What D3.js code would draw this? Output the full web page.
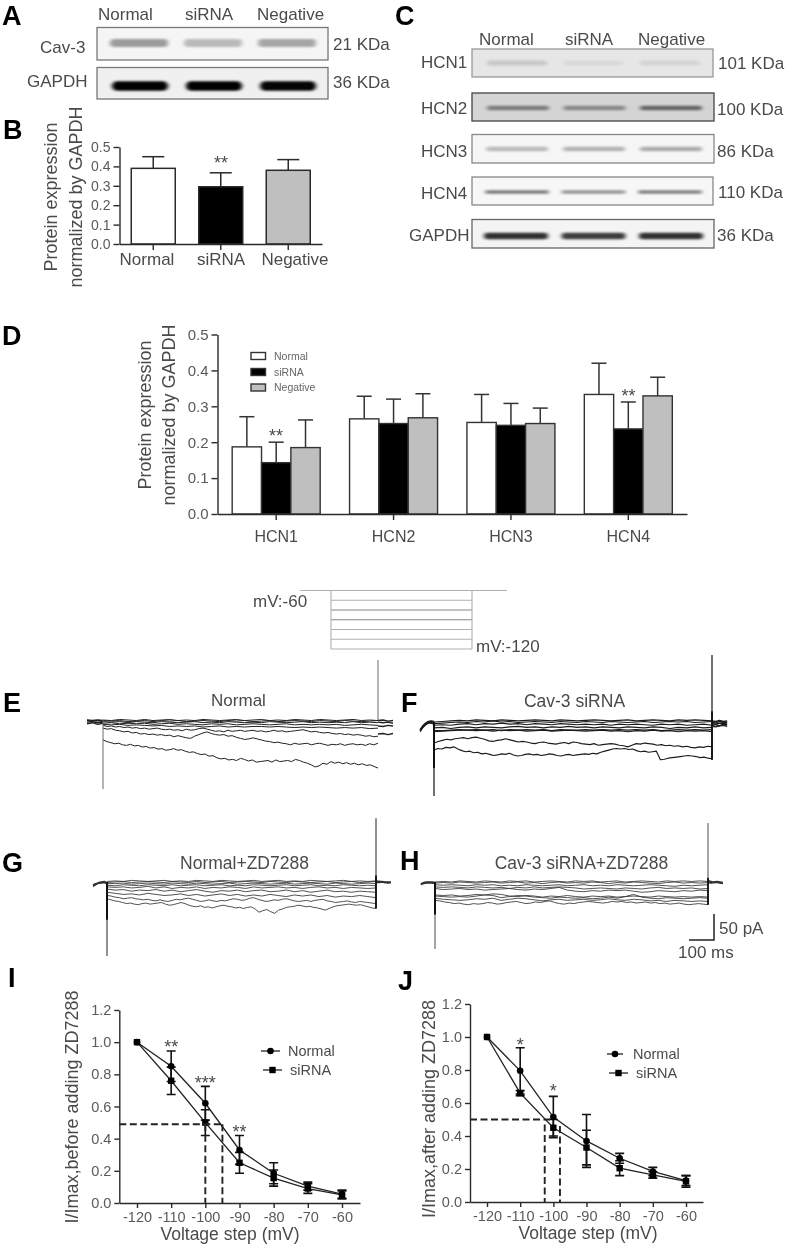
<!DOCTYPE html>
<html><head><meta charset="utf-8">
<script src="https://cdn.jsdelivr.net/npm/d3@7/dist/d3.min.js"></script>
<style>html,body{margin:0;padding:0;background:#fff}svg{display:block;font-family:"Liberation Sans",Arial,sans-serif;filter:blur(.4px)}</style>
</head><body><svg id="c" width="787" height="1245"></svg>
<script>
// ---------- data ----------
const lanes = ["Normal","siRNA","Negative"];
const bandCav3 = [.36,.24,.32];
const bandGapdhA = [1,1,.98];
const bandHcn1 = [.13,.05,.08];
const bandHcn2 = [.42,.36,.52];
const bandHcn3 = [.24,.27,.3];
const bandHcn4 = [.5,.4,.48];
const bandGapdhC = [.8,.75,.8];

const cav3Mean = [.39,.295,.38];
const cav3Top = [.45,.367,.435];

const hcnGroups = ["HCN1","HCN2","HCN3","HCN4"];
const hcnNormal = [.187,.265,.255,.333];
const hcnSirna = [.143,.252,.247,.237];
const hcnNegative = [.185,.268,.252,.329];
const hcnNormalTop = [.271,.328,.333,.42];
const hcnSirnaTop = [.2,.32,.308,.312];
const hcnNegativeTop = [.262,.335,.295,.381];

const protocolSteps = [-60,-70,-80,-90,-100,-110,-120];

const voltages = [-120,-110,-100,-90,-80,-70,-60];
const iNormal = [1,.85,.62,.33,.185,.105,.055];
const iNormalErr = [0,.095,.105,.09,.065,.025,.025];
const iSirna = [1,.76,.50,.25,.155,.09,.05];
const iSirnaErr = [0,.085,.08,.065,.05,.03,.025];
const jNormal = [1,.795,.515,.37,.265,.185,.13];
const jNormalErr = [0,.14,.125,.16,.03,.025,.03];
const jSirna = [1,.66,.45,.33,.205,.165,.125];
const jSirnaErr = [0,.015,.05,.105,.045,.02,.035];

// current traces, pA of inward current, sampled evenly over the 1100 ms step
const tracesE = [
[37,40,42,44,43,46,47,45,48,47,50,49,52,51,54,53,56,55,53,56,55,58,60,59,62,64,63,67,66,70,72,71,74,73,75,71,73,76,74,78,77,76,75,78,74,77,76,75,77,73,75,78,80,83,87,85,80,82,77,80,78,81,79,82,80,83,81,84,83,86,89],
[15,17,16,19,20,22,21,24,23,26,25,27,26,28,27,29,28,31,29,31,33,34,30,27,24,22,25,27,28,27,30,29,32,34,36,35,33,35,37,39,40,42,41,43,44,46,43,45,44,43,46,44,43,45,47,45,46,44,47,45,44,46,45,47,44,46,43],
[10,12,11,13,12,14,13,15,14,16,15,17,16,15,17,18,17,19,18,20,17,19,18,16,15,17,19,21,20,22,19,21,20,19,21,20,19,21,20,22,21,19,21,20,22,21,20,19,18,20,22,21,23,24,23,25,26,25,27,26,28,27,28,30,29,31,30],
[8,9,8,10,9,10,11,10,12,11,12,11,13,12,11,13,12,13,12,12,13,12,13,14,13,14,13,14,15,14,15,14,16,15],
[6,5,7,6,7,6,8,7,6,8,7,8,9,7,8,7,9,8,7,8,9,8,7,9,8,9,8,9,8,10,9,8,9,10],
[3,4,3,5,3,4,5,3,4,5,4,3,5,4,5,3,4,5,4,5,3,4,5,4,3,5,4,5,4,5,3,5,4,5],
[1,2,1,3,2,1,3,1,2,1,3,2,1,2,3,1,2,1,3,2,1,3,2,1,2,3,1,2,3,1,2,3,2,1],
[0,1,-1,0,1,-1,1,0,-1,1,0,1,-1,0,1,0,-1,1,0,-1,1,0,1,-1,0,1,-1,0,1,0,-1,1,0,1]];
const preE = [[1,2,1,3],[4,3,5,4],[0,1,0,1],[7,5,8,6]];
const postE = [[1,0,2,1],[4,5,4,6],[11,12,10,11],[26,25,27,25]];

const tracesF = [
[52,49,50,47,48,46,50,53,55,54,57,56,59,58,60,62,61,59,60,58,61,63,62,60,59,61,60,62,61,59,60,62,63,61,60,62,61,60,59,60,58,59,56,54,52,50,49,50,49,51,50,53,55,54,56,55,54,70,69,67,66,65,64,63,62,63,64,66,65,67,68],
[39,36,34,32,33,31,30,29,31,29,28,30,32,35,36,34,33,31,33,35,37,36,37,39,40,38,37,39,40,41,39,38,40,37,38,40,41,42,40,43,42,41,40,41,43,44,46,43,40,41,39,40,41,43,42,44,43,45,44,46,45,47,48,46,47,45,46],
[18,17,16,15,15,16,15,17,15,16,15,17,16,15,17,16,15,16,17,16,15,17,16,18,16,17,15,17,16,18,16,17,16,18],
[16,16,15,14,15,14,15,14,16,14,15,14,15,14,16,14,15,15,14,15,14,15,14,15,14,15,14,16,15,14,15,14,15,14],
[11,10,12,10,9,11,9,10,11,9,8,10,9,11,9,10,8,10,9,11,9,10,11,9,10,11,9,10,12,10,11,9,11,10],
[6,5,6,4,3,5,3,4,2,4,3,5,3,4,5,3,4,5,4,5,4,6,4,5,4,5,6,4,5,4,6,5,4,6],
[3,2,1,0,1,-1,0,-2,0,-1,1,0,-1,0,1,-1,0,1,-1,0,1,-1,0,1,0,-1,1,0,-1,0,-1,1,0,-1],
[0,-1,-2,-3,-2,-4,-3,-2,-4,-3,-2,-3,-4,-3,-2,-4,-3,-2,-3,-4,-3,-2,-3,-4,-2,-3,-4,-3,-2,-4,-3,-4,-3,-2]];
const preF = [[14,7,2,-1,-2,-1],[16,9,4,0,-1,1],[15,8,3,1,1,3],[18,10,5,2,2,4]];
const postF = [[-2,-1,-3,-1,-2],[0,2,-1,1,0],[3,4,2,3,2],[6,5,7,4,5],[8,9,7,6,8]];

const tracesG = [
[31,33,35,36,38,40,39,41,42,40,39,41,40,39,38,41,43,42,40,38,40,43,45,46,44,47,46,48,46,44,43,45,46,48,47,49,47,46,50,56,53,51,55,58,52,50,47,46,45,43,44,46,45,47,48,50,52,49,46,44,43,42,41,42,43,42,44,46,48,49],
[25,26,28,29,31,30,29,31,32,33,32,34,35,33,35,36,34,32,33,31,30,32,34,36,35,33,35,36,34,35,33,31,32,34,33,30,29,32,34,36,35,33,34,32,31,33,35,36,35,34,36,34,33,32,35,36,38,37,36,35,37,38,36,37,38,39,40],
[19,21,23,22,24,21,23,25,24,22,25,23,26,24,22,25,23,26,24,26,23,25,27,24,26,24,27,25,28,26,27,25,27,29],
[13,15,14,17,15,16,14,17,15,18,16,14,17,19,16,17,15,18,16,15,18,17,15,18,16,19,17,15,18,17,19,17,18,19],
[9,10,9,11,10,8,11,9,12,10,11,9,12,10,11,9,10,12,9,11,10,9,11,10,12,10,9,11,10,12,10,11,12,11],
[6,7,5,6,7,5,6,7,5,7,6,5,7,6,5,7,6,7,5,6,7,6,5,7,6,5,7,6,7,5,6,7,6,7],
[3,3,2,4,3,2,3,4,2,3,4,2,3,4,3,2,4,3,2,3,4,3,2,4,3,2,3,4,2,3,4,3,2,3],
[1,0,-1,1,0,-1,0,1,-1,0,1,-1,1,0,-1,1,0,-1,0,1,-1,0,1,-1,0,1,0,-1,1,0,-1,1,0,-1],
[-1,-2,-1,-3,-2,-1,-2,-3,-1,-2,-1,-3,-2,-1,-3,-2,-1,-2,-3,-1,-2,-3,-1,-2,-1,-3,-2,-1,-2,-3,-1,-2,-1,-2]];
const preG = [[7,4,1,0,-1,1],[8,5,2,1,0,2],[5,3,2,2,1,3]];
const postG = [[0,-1,-1,0,1,0],[1,1,0,1,2,1],[-2,-1,0,1,0,1]];

const tracesH = [
[34,35,37,38,40,39,41,42,40,41,40,38,39,41,40,38,37,36,38,40,39,37,38,36,35,38,40,41,39,40,38,37,36,37,38,39,38,36,37,36,38,37,39,38,37,39,38,40,39,41,40,39,41,42,41,40,41,42],
[30,32,33,34,33,31,32,30,34,32,30,31,33,35,33,32,34,33,32,34,33,31,33,34,32,33,35,34,36,34,35,36,35,36],
[26,27,28,27,28,26,24,25,29,27,25,26,28,29,30,28,29,30,29,31,30,28,30,27,23,28,30,31,29,30,31,30,29,30],
[24,25,24,26,25,23,24,22,23,26,27,25,26,28,26,27,25,27,28,26,27,26,28,27,26,27,28,26,27,28,27,28,27,28],
[12,14,13,12,14,13,15,14,13,12,14,15,13,14,12,10,15,17,18,16,17,15,16,15,17,19,18,16,17,18,16,17,15,16],
[9,10,9,10,11,9,10,11,10,12,10,11,9,11,10,9,10,11,13,12,11,12,13,11,12,13,11,10,12,11,12,11,13,12],
[5,6,5,6,7,5,6,5,7,6,7,5,6,7,6,5,7,6,5,7,6,7,5,6,7,6,5,6,7,8,6,7,6,5],
[2,1,2,0,1,2,1,0,2,1,0,2,1,3,1,0,2,1,2,0,1,3,1,2,0,1,2,3,1,0,2,1,2,1],
[0,-1,0,-2,-1,0,-2,-1,0,-2,-1,-2,0,-1,-2,-1,0,-2,-1,-2,0,-1,-2,0,-1,-2,-1,0,-2,-1,-2,-1,-2,-1]];
const preH = [[3,1,0,1,0,1],[4,2,1,0,1,2],[5,3,2,2,2,3]];
const postH = [[0,1,0,-1,0,1],[1,2,1,0,1,2],[-3,-1,1,1,2,3]];

// ---------- helpers ----------
const svg = d3.select("#c");
const INK = "#4a4a4a", LINE = "#2a2a2a";
const defs = svg.append("defs");
defs.append("filter").attr("id","soft").attr("x","-20%").attr("y","-300%").attr("width","140%").attr("height","700%")
  .append("feGaussianBlur").attr("stdDeviation","2 1.3");

function label(x,y,s,size=17,o={}){
  const t = svg.append("text").attr("x",x).attr("y",y).attr("font-size",size)
    .attr("fill",o.fill||INK).attr("text-anchor",o.anchor||"start").text(s);
  if(o.bold) t.attr("font-weight","bold");
  if(o.rot) t.attr("transform",`rotate(-90 ${x} ${y})`);
  return t;
}
function panelLetter(s,x,y){ label(x,y,s,27,{bold:true,fill:"#000"}); }
function styleAxis(g,size=14){
  g.selectAll("path,line").attr("stroke",LINE).attr("stroke-width",1.4);
  g.selectAll("text").attr("font-size",size).attr("fill","#5a5a5a").attr("font-family","inherit");
}

// ---------- western blots ----------
function blot(x0,x1,y0,y1,bg,border,intens,centers,bandY,bandW,bandH){
  const g = svg.append("g");
  g.append("rect").attr("x",x0).attr("y",y0).attr("width",x1-x0).attr("height",y1-y0)
    .attr("fill",bg).attr("stroke",border).attr("stroke-width",1.3);
  const lane = d3.scalePoint().domain(lanes).range(centers);
  g.selectAll("rect.band").data(lanes).join("rect").attr("class","band")
    .attr("x",d=>lane(d)-bandW/2).attr("width",bandW)
    .attr("y",bandY-bandH/2).attr("height",bandH).attr("rx",bandH/2)
    .attr("fill","#000").attr("opacity",(d,i)=>intens[i]).attr("filter","url(#soft)");
}
blot(97,328,27.5,60,"#f5f5f5","#777",bandCav3,[139,287],43,58,8);
blot(97,328,67.5,99,"#f0f0f0","#777",bandGapdhA,[140,288],86,56,9.5);
blot(472,713,49,77,"#e6e6e6","#999",bandHcn1,[517,670],63,60,5);
blot(472,714,93,121,"#d4d4d4","#444",bandHcn2,[518,671],108,62,4.5);
blot(472,714,134.5,163,"#f6f6f6","#888",bandHcn3,[517,671],149,62,4.5);
blot(472,713,177,205,"#f7f7f7","#888",bandHcn4,[517,670],192,64,3.5);
blot(472,714,219.5,248,"#f4f4f4","#666",bandGapdhC,[516,671],236,64,6.5);

[["Normal",98],["siRNA",185],["Negative",257]].forEach(d=>label(d[1],20,d[0]));
label(40,53,"Cav-3"); label(27,87,"GAPDH");
label(333,50,"21 KDa"); label(333,88,"36 KDa");
[["Normal",479],["siRNA",565],["Negative",638]].forEach(d=>label(d[1],45,d[0]));
[["HCN1",421,68],["HCN2",421,114],["HCN3",421,157],["HCN4",421,199],["GAPDH",409,241]].forEach(d=>label(d[1],d[2],d[0]));
[["101 KDa",718,69],["100 KDa",717,115],["86 KDa",717,157],["110 KDa",718,198],["36 KDa",717,241]].forEach(d=>label(d[1],d[2],d[0]));

["A",2,25,"B",3,139,"C",395,25,"D",2,345,"E",3,712,"F",401,712,"G",2,872,"H",400,870,"I",8,987,"J",398,990]
  .reduce((a,v,i,arr)=>{ if(i%3==0) panelLetter(arr[i],arr[i+1],arr[i+2]); return a; },0);

// ---------- panel B ----------
(function(){
  const x = d3.scaleBand().domain(lanes).range([119.5,322]);
  const y = d3.scaleLinear().domain([0,.5]).range([244,147]);
  const fills = ["#fff","#000","#bfbfbf"];
  const g = svg.append("g");
  lanes.forEach((c,i)=>{
    const cx = x(c)+x.bandwidth()/2;
    g.append("line").attr("x1",cx).attr("x2",cx).attr("y1",y(cav3Mean[i])).attr("y2",y(cav3Top[i])).attr("stroke",LINE).attr("stroke-width",1.5);
    g.append("line").attr("x1",cx-11).attr("x2",cx+11).attr("y1",y(cav3Top[i])).attr("y2",y(cav3Top[i])).attr("stroke",LINE).attr("stroke-width",1.5);
    g.append("rect").attr("x",cx-22).attr("width",44).attr("y",y(cav3Mean[i])).attr("height",y(0)-y(cav3Mean[i]))
      .attr("fill",fills[i]).attr("stroke",LINE).attr("stroke-width",1.5);
  });
  const ay = svg.append("g").attr("transform","translate(119.5,0)").call(d3.axisLeft(y).tickValues([0,.1,.2,.3,.4,.5]).tickFormat(d3.format(".1f")).tickSize(6).tickSizeOuter(0));
  styleAxis(ay);
  const ax = svg.append("g").attr("transform","translate(0,244)").call(d3.axisBottom(x).tickFormat("").tickSize(6).tickSizeOuter(0));
  styleAxis(ax);
  label(147,265,"Normal",17,{anchor:"middle"}); label(221,265,"siRNA",17,{anchor:"middle"}); label(295,265,"Negative",17,{anchor:"middle"});
  label(57,197,"Protein expression",18,{rot:true,anchor:"middle"});
  label(82,197,"normalized by GAPDH",18,{rot:true,anchor:"middle"});
  label(221,169,"**",18,{anchor:"middle"});
})();

// ---------- panel D ----------
(function(){
  const x = d3.scaleBand().domain(hcnGroups).range([217.5,687]);
  const y = d3.scaleLinear().domain([0,.5]).range([514,334.5]);
  const sub = d3.scaleBand().domain(lanes).range([-44,44]);
  const fills = ["#fff","#000","#bfbfbf"];
  const means = [hcnNormal,hcnSirna,hcnNegative], tops = [hcnNormalTop,hcnSirnaTop,hcnNegativeTop];
  const g = svg.append("g");
  lanes.forEach((c,s)=>hcnGroups.forEach((h,i)=>{
    const x0 = x(h)+x.bandwidth()/2+sub(c), w = sub.bandwidth(), cx = x0+w/2;
    g.append("line").attr("x1",cx).attr("x2",cx).attr("y1",y(means[s][i])).attr("y2",y(tops[s][i])).attr("stroke","#333").attr("stroke-width",1.5);
    g.append("line").attr("x1",cx-7.5).attr("x2",cx+7.5).attr("y1",y(tops[s][i])).attr("y2",y(tops[s][i])).attr("stroke","#333").attr("stroke-width",1.5);
    g.append("rect").attr("x",x0).attr("width",w).attr("y",y(means[s][i])).attr("height",y(0)-y(means[s][i]))
      .attr("fill",fills[s]).attr("stroke","#333").attr("stroke-width",1.4);
  }));
  const ay = svg.append("g").attr("transform","translate(217.5,0)").call(d3.axisLeft(y).tickValues([0,.1,.2,.3,.4,.5]).tickFormat(d3.format(".1f")).tickSize(6).tickSizeOuter(0));
  styleAxis(ay,15);
  const ax = svg.append("g").attr("transform","translate(0,514)").call(d3.axisBottom(x).tickSize(6).tickSizeOuter(0).tickPadding(11));
  styleAxis(ax,16);
  ax.selectAll("text").attr("fill",INK);
  label(151,415,"Protein expression",18,{rot:true,anchor:"middle"});
  label(175,415,"normalized by GAPDH",18,{rot:true,anchor:"middle"});
  lanes.forEach((c,i)=>{
    const yy = [356,372,387.5][i];
    svg.append("rect").attr("x",251).attr("y",yy-3.5).attr("width",14.5).attr("height",7).attr("fill",fills[i]).attr("stroke","#333").attr("stroke-width",1.4);
    label(274,yy+3.5,c,10.5,{fill:"#666"});
  });
  label(276,442,"**",18,{anchor:"middle"});
  label(628.5,402,"**",18,{anchor:"middle"});
})();

// ---------- voltage protocol ----------
(function(){
  const y = d3.scaleLinear().domain([-60,-120]).range([590.5,649]);
  const g = svg.append("g").attr("stroke","#b0b0b0").attr("stroke-width",1.1);
  g.selectAll("line.s").data(protocolSteps).join("line").attr("class","s")
    .attr("x1",d=>d==-60?300:331).attr("x2",d=>d==-60?507:472).attr("y1",d=>y(d)).attr("y2",d=>y(d))
    .attr("stroke",(d,i)=>(i==2||i==3)?"#888":"#b0b0b0");
  [331,472].forEach(x=>g.append("line").attr("x1",x).attr("x2",x).attr("y1",y(-60)).attr("y2",y(-120)));
  label(253,607,"mV:-60"); label(476,652,"mV:-120");
})();

// ---------- current traces ----------
function tracePanel(o){
  const x = d3.scaleLinear().domain([0,1100]).range([o.start,o.end]);
  const y = d3.scaleLinear().domain([0,100]).range([o.base,o.base+54]);
  const line = d3.line().x(d=>x(d[0])).y(d=>y(d[1]));
  const g = svg.append("g").attr("fill","none").attr("stroke",o.color).attr("stroke-width",o.width).attr("stroke-linejoin","round");
  const stamp = a=>a.map((v,i)=>[i*1100/(a.length-1),v]);
  g.selectAll("path.t").data(o.traces).join("path").attr("class","t").attr("d",a=>line(stamp(a)));
  const side = (a,t0,t1)=>a.map((v,i)=>[t0+(t1-t0)*i/(a.length-1),v]);
  o.pre.forEach(a=>g.append("path").attr("d",line(side(a,-o.preMs,0))).attr("stroke-width",o.sideW));
  o.post.forEach(a=>g.append("path").attr("d",line(side(a,1100,1100+o.postMs))).attr("stroke-width",o.sideW));
  g.append("line").attr("x1",x(0)).attr("x2",x(0)).attr("y1",y(0)).attr("y2",y(o.down)).attr("stroke",o.spike).attr("stroke-width",o.spikeW);
  if(o.thick) g.append("line").attr("x1",x(0)).attr("x2",x(0)).attr("y1",y(0)).attr("y2",y(o.thick)).attr("stroke","#111").attr("stroke-width",2);
  g.append("line").attr("x1",x(1100)).attr("x2",x(1100)).attr("y1",y(o.tailDown)).attr("y2",y(-o.up)).attr("stroke",o.spike).attr("stroke-width",o.spikeW);
  if(o.thickUp) g.append("line").attr("x1",x(1100)).attr("x2",x(1100)).attr("y1",y(o.tailDown)).attr("y2",y(-o.thickUp)).attr("stroke","#111").attr("stroke-width",1.8);
}
tracePanel({start:103,end:378,base:720,traces:tracesE,pre:preE,post:postE,preMs:64,postMs:60,color:"#222",width:1,sideW:1.4,spike:"#6a6a6a",spikeW:1,down:128,up:111,tailDown:0});
tracePanel({start:434,end:712,base:722,traces:tracesF,pre:preF,post:postF,preMs:55,postMs:60,color:"#1c1c1c",width:1.15,sideW:1.4,spike:"#111",spikeW:1.2,down:137,up:124,tailDown:70,thick:85,thickUp:20});
tracePanel({start:107,end:376,base:882,traces:tracesG,pre:preG,post:postG,preMs:57,postMs:61,color:"#333",width:.85,sideW:1.4,spike:"#222",spikeW:1,down:137,up:118,tailDown:49,thick:70,thickUp:12});
tracePanel({start:435,end:708,base:882,traces:tracesH,pre:preH,post:postH,preMs:57,postMs:60,color:"#333",width:.85,sideW:1.4,spike:"#333",spikeW:.9,down:124,up:109,tailDown:42,thick:60,thickUp:8});

label(238.5,706,"Normal",17,{anchor:"middle"});
label(574.5,707,"Cav-3 siRNA",17.5,{anchor:"middle"});
label(244.5,869,"Normal+ZD7288",17.5,{anchor:"middle"});
label(581.5,869,"Cav-3 siRNA+ZD7288",17.5,{anchor:"middle"});

// scale bar
svg.append("path").attr("d","M689 940H714V914").attr("fill","none").attr("stroke","#222").attr("stroke-width",1.5);
label(719,934,"50 pA",17); label(678,958,"100 ms",17);

// ---------- panels I, J ----------
function ivPanel(o){
  const x = d3.scaleLinear().domain(o.xd).range(o.xr);
  const y = d3.scaleLinear().domain([0,1.2]).range(o.yr);
  const line = d3.line().x((d,i)=>x(voltages[i])).y(d=>y(d));
  const g = svg.append("g");
  [[o.n,o.ne],[o.s,o.se]].forEach(([v,e])=>{
    g.append("path").attr("d",line(v)).attr("fill","none").attr("stroke","#222").attr("stroke-width",1.3);
    voltages.forEach((vv,i)=>{
      if(!e[i]) return;
      const cx = x(vv);
      g.append("path").attr("d",`M${cx} ${y(v[i]-e[i])}V${y(v[i]+e[i])}M${cx-4.5} ${y(v[i]-e[i])}h9M${cx-4.5} ${y(v[i]+e[i])}h9`)
        .attr("fill","none").attr("stroke","#111").attr("stroke-width",1.6);
    });
  });
  g.selectAll("circle").data(o.n).join("circle").attr("cx",(d,i)=>x(voltages[i])).attr("cy",d=>y(d)).attr("r",3.3).attr("fill","#000");
  g.selectAll("rect").data(o.s).join("rect").attr("x",(d,i)=>x(voltages[i])-3.2).attr("y",d=>y(d)-3.2).attr("width",6.4).attr("height",6.4).attr("fill","#000");
  const d = g.append("g").attr("fill","none").attr("stroke","#222").attr("stroke-width",1.9).attr("stroke-dasharray","7 3.5");
  d.append("path").attr("d",`M${x.range()[0]} ${y(o.half)}H${x(o.hEnd)}`);
  o.verts.forEach(vv=>d.append("path").attr("d",`M${x(vv[0])} ${y(vv[1])}V${y(0)}`));
  const ay = svg.append("g").attr("transform",`translate(${o.xr[0]},0)`).call(d3.axisLeft(y).tickValues([0,.2,.4,.6,.8,1,1.2]).tickFormat(d3.format(".1f")).tickSize(5).tickSizeOuter(0));
  styleAxis(ay,14.5);
  const ax = svg.append("g").attr("transform",`translate(0,${o.yr[0]})`).call(d3.axisBottom(x).tickValues(voltages).tickFormat(v=>String(v)).tickSize(5).tickSizeOuter(0).tickPadding(4));
  styleAxis(ax,14.5);
  label(o.tx,o.ty,"Voltage step (mV)",17.5,{anchor:"middle"});
  label(o.lx,o.ly,o.ylabel,18,{rot:true,anchor:"middle"});
  o.stars.forEach(s=>label(x(s[0]),y(s[1])+s[3],s[2],18,{anchor:"middle"}));
  const lg = o.legend;
  svg.append("line").attr("x1",lg.n[0]).attr("x2",lg.n[1]).attr("y1",lg.n[2]).attr("y2",lg.n[2]).attr("stroke","#222").attr("stroke-width",1.3);
  svg.append("circle").attr("cx",(lg.n[0]+lg.n[1])/2).attr("cy",lg.n[2]).attr("r",3.3).attr("fill","#000");
  svg.append("line").attr("x1",lg.s[0]).attr("x2",lg.s[1]).attr("y1",lg.s[2]).attr("y2",lg.s[2]).attr("stroke","#222").attr("stroke-width",1.3);
  svg.append("rect").attr("x",(lg.s[0]+lg.s[1])/2-3.2).attr("y",lg.s[2]-3.2).attr("width",6.4).attr("height",6.4).attr("fill","#000");
  label(lg.n[3],lg.n[2]+5,"Normal",14.5); label(lg.s[3],lg.s[2]+5,"siRNA",14.5);
}
ivPanel({xd:[-125.18,-54.73],xr:[119.3,360],yr:[1203,1010],n:iNormal,ne:iNormalErr,s:iSirna,se:iSirnaErr,half:.49,hEnd:-95,
  verts:[[-100,.49],[-95,.49]],tx:230,ty:1240,lx:78,ly:1107,ylabel:"I/Imax,before adding ZD7288",
  stars:[[-110,.945,"**",2],[-100,.725,"***",3],[-90,.42,"**",3]],
  legend:{n:[261,280,1051,288],s:[263,282,1070,290]}});
ivPanel({xd:[-125.13,-54.87],xr:[470,703],yr:[1202,1004],n:jNormal,ne:jNormalErr,s:jSirna,se:jSirnaErr,half:.5,hEnd:-101,
  verts:[[-102.6,.47],[-98,.46]],tx:588,ty:1239,lx:435,ly:1109,ylabel:"I/Imax,after adding ZD7288",
  stars:[[-110,.935,"*",3],[-100,.64,"*",1]],
  legend:{n:[607,623,1054,633],s:[609,628,1073,636]}});
</script></body></html>
